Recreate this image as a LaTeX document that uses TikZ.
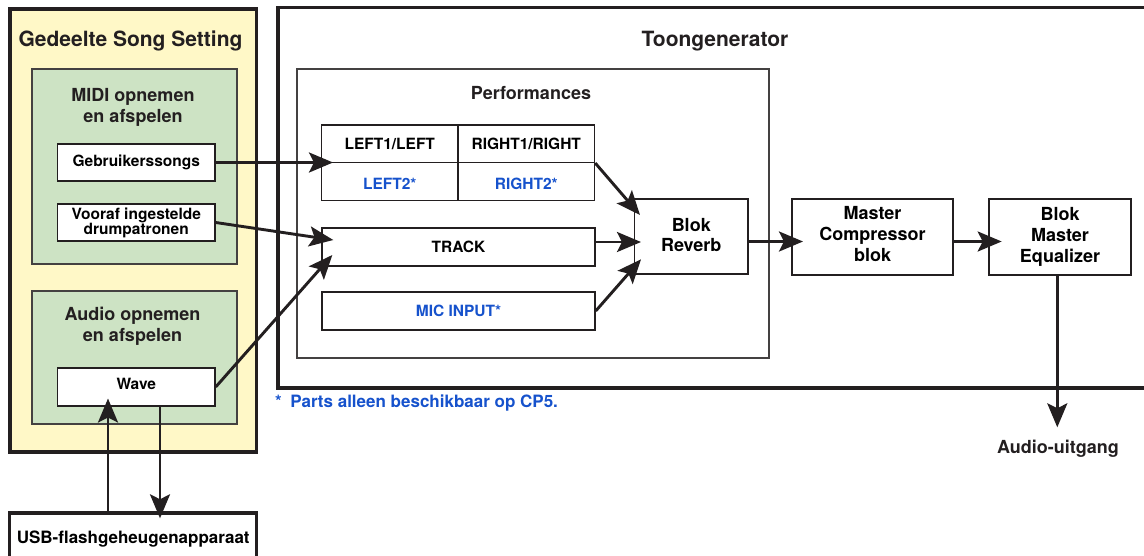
\documentclass[tikz,border=0pt]{standalone}
\usepackage{fontspec}
\setmainfont{TeX Gyre Heros}
\usetikzlibrary{arrows.meta}

\definecolor{ink}{RGB}{35,31,32}
\definecolor{songfill}{RGB}{255,248,199}
\definecolor{groupfill}{RGB}{205,227,196}
\definecolor{partblue}{RGB}{22,82,204}

\tikzset{
  heavyframe/.style={draw=ink, line width=3.2pt, inner sep=0pt},
  groupbox/.style={draw=ink!85, line width=1.4pt, fill=groupfill, inner sep=0pt},
  panel/.style={draw=ink!85, line width=1.4pt, inner sep=0pt},
  unit/.style={draw=ink, line width=1.4pt, fill=white, inner sep=0pt, align=center},
  lbl/.style={inner sep=0pt, align=center, text=ink},
  sz/.style 2 args={font=\bfseries\fontsize{#1}{#2}\selectfont},
  flow/.style={draw=ink, line width=2.9pt, -{Stealth[length=24pt,width=20pt,inset=5pt]}},
}

\begin{document}
\begin{tikzpicture}[x=1pt,y=-1pt]
\useasboundingbox (0,0) rectangle (1144,555);
\clip (0,0) rectangle (1144,555);

% ---------- shared song settings ----------
\node[heavyframe, fill=songfill, minimum width=246.5, minimum height=443] (song) at (133.25,230.5) {};
\node[lbl, sz={21}{24}, anchor=base] (songtitle) at (130.5,46.5) {Gedeelte Song Setting};

\node[groupbox, minimum width=205, minimum height=195] (midi) at (134.5,166.5) {};
\node[lbl, sz={18}{20.5}] (miditxt) at (133,107.3) {MIDI opnemen\\en afspelen};
\node[unit, sz={15.5}{15}, minimum width=157.5, minimum height=37,
      text height=8.4pt, text depth=0pt] (gebr) at (136.25,162.5) {Gebruikerssongs};
\node[unit, sz={15.5}{15}, minimum width=157.5, minimum height=37] (drums) at (136.25,222.5)
      {Vooraf ingestelde\\drumpatronen};

\node[groupbox, minimum width=205, minimum height=133] (audio) at (134.5,357.5) {};
\node[lbl, sz={18}{21}] (audiotxt) at (132.5,326.6) {Audio opnemen\\en afspelen};
\node[unit, sz={15.5}{15}, minimum width=157.5, minimum height=38,
      text height=4.6pt, text depth=0pt] (wave) at (136.25,387) {Wave};

\node[heavyframe, fill=white, sz={17}{20}, minimum width=247, minimum height=51,
      text height=9.6pt, text depth=0pt] (usb) at (133.25,538.5) {USB-flashgeheugenapparaat};

% ---------- tone generator ----------
\node[heavyframe, minimum width=892, minimum height=380.5] (tone) at (724,197.75) {};
\node[lbl, sz={21}{24}, anchor=base] (tonetitle) at (715,46) {Toongenerator};

\node[panel, minimum width=472, minimum height=289] (perf) at (533,213.5) {};
\node[lbl, sz={18}{20}, anchor=base] (perftitle) at (531,99.3) {Performances};

\node[unit, sz={15.5}{15}, minimum width=136.5, minimum height=37.3,
      text height=11.2pt, text depth=0pt] (l1) at (389.75,143.65) {LEFT1/LEFT};
\node[unit, sz={15.5}{15}, minimum width=136.5, minimum height=37.3,
      text height=11.2pt, text depth=0pt] (r1) at (526.25,143.65) {RIGHT1/RIGHT};
\node[unit, sz={15.5}{15}, minimum width=136.5, minimum height=38.4, text=partblue,
      text height=15.6pt, text depth=0pt] (l2) at (389.75,181.5) {LEFT2*};
\node[unit, sz={15.5}{15}, minimum width=136.5, minimum height=38.4, text=partblue,
      text height=15.6pt, text depth=0pt] (r2) at (526.25,181.5) {RIGHT2*};

\node[unit, sz={15.5}{15}, minimum width=273, minimum height=38,
      text height=10.6pt, text depth=0pt] (track) at (458.5,247) {TRACK};
\node[unit, sz={15.5}{15}, minimum width=273, minimum height=38, text=partblue,
      text height=10pt, text depth=0pt] (mic) at (458.5,311) {MIC INPUT*};

% multi-line texts sit on their last baseline
\node[unit, sz={18}{20.7}, minimum width=113.5, minimum height=75,
      text height=30.4pt, text depth=0pt] (reverb) at (691.25,236.5) {Blok\\Reverb};
\node[unit, sz={18}{21}, minimum width=161, minimum height=76,
      text height=48pt, text depth=0pt] (comp) at (872.5,237) {Master\\Compressor\\blok};
\node[unit, sz={18}{21}, minimum width=142, minimum height=76] (eq) at (1060,237)
      {Blok\\Master\\Equalizer};

\node[lbl, sz={18}{20}, anchor=base] (outlbl) at (1058,453.3) {Audio-uitgang};
\node[lbl, sz={17}{20}, anchor=base west, text=partblue] (note) at (275,407.7)
      {*\enspace Parts alleen beschikbaar op CP5.};

% ---------- arrow end points ----------
\coordinate (inLeft)   at (333,162.5);
\coordinate (inTrackA) at (333.3,240);
\coordinate (inTrackB) at (332.3,255);
\coordinate (revA)     at (640,215);
\coordinate (trackOut) at (595,242);
\coordinate (revB)     at (641,242);
\coordinate (revC)     at (641,259.3);
\coordinate (revOut)   at (748,241.5);
\coordinate (compIn)   at (803,241.5);
\coordinate (compOut)  at (953,241.5);
\coordinate (eqIn)     at (1001.7,241.5);
\coordinate (eqOut)    at (1057.3,275);
\coordinate (audioOut) at (1057.3,427.3);
\coordinate (usbUp)    at (108,513);
\coordinate (waveIn)   at (108,398.5);
\coordinate (waveOut)  at (160,406);
\coordinate (usbIn)    at (160,518.3);

% ---------- connectors ----------
\draw[flow] (gebr.east) -- (inLeft);
\draw[flow] (drums.east) -- (inTrackA);
\draw[flow] (wave.east) -- (inTrackB);
\draw[flow] (r1.south east) -- (revA);
\draw[flow] (trackOut) -- (revB);
\draw[flow] (mic.east) -- (revC);
\draw[flow] (revOut) -- (compIn);
\draw[flow] (compOut) -- (eqIn);
\draw[flow] (eqOut) -- (audioOut);
\draw[flow] (usbUp) -- (waveIn);
\draw[flow] (waveOut) -- (usbIn);
\end{tikzpicture}
\end{document}
